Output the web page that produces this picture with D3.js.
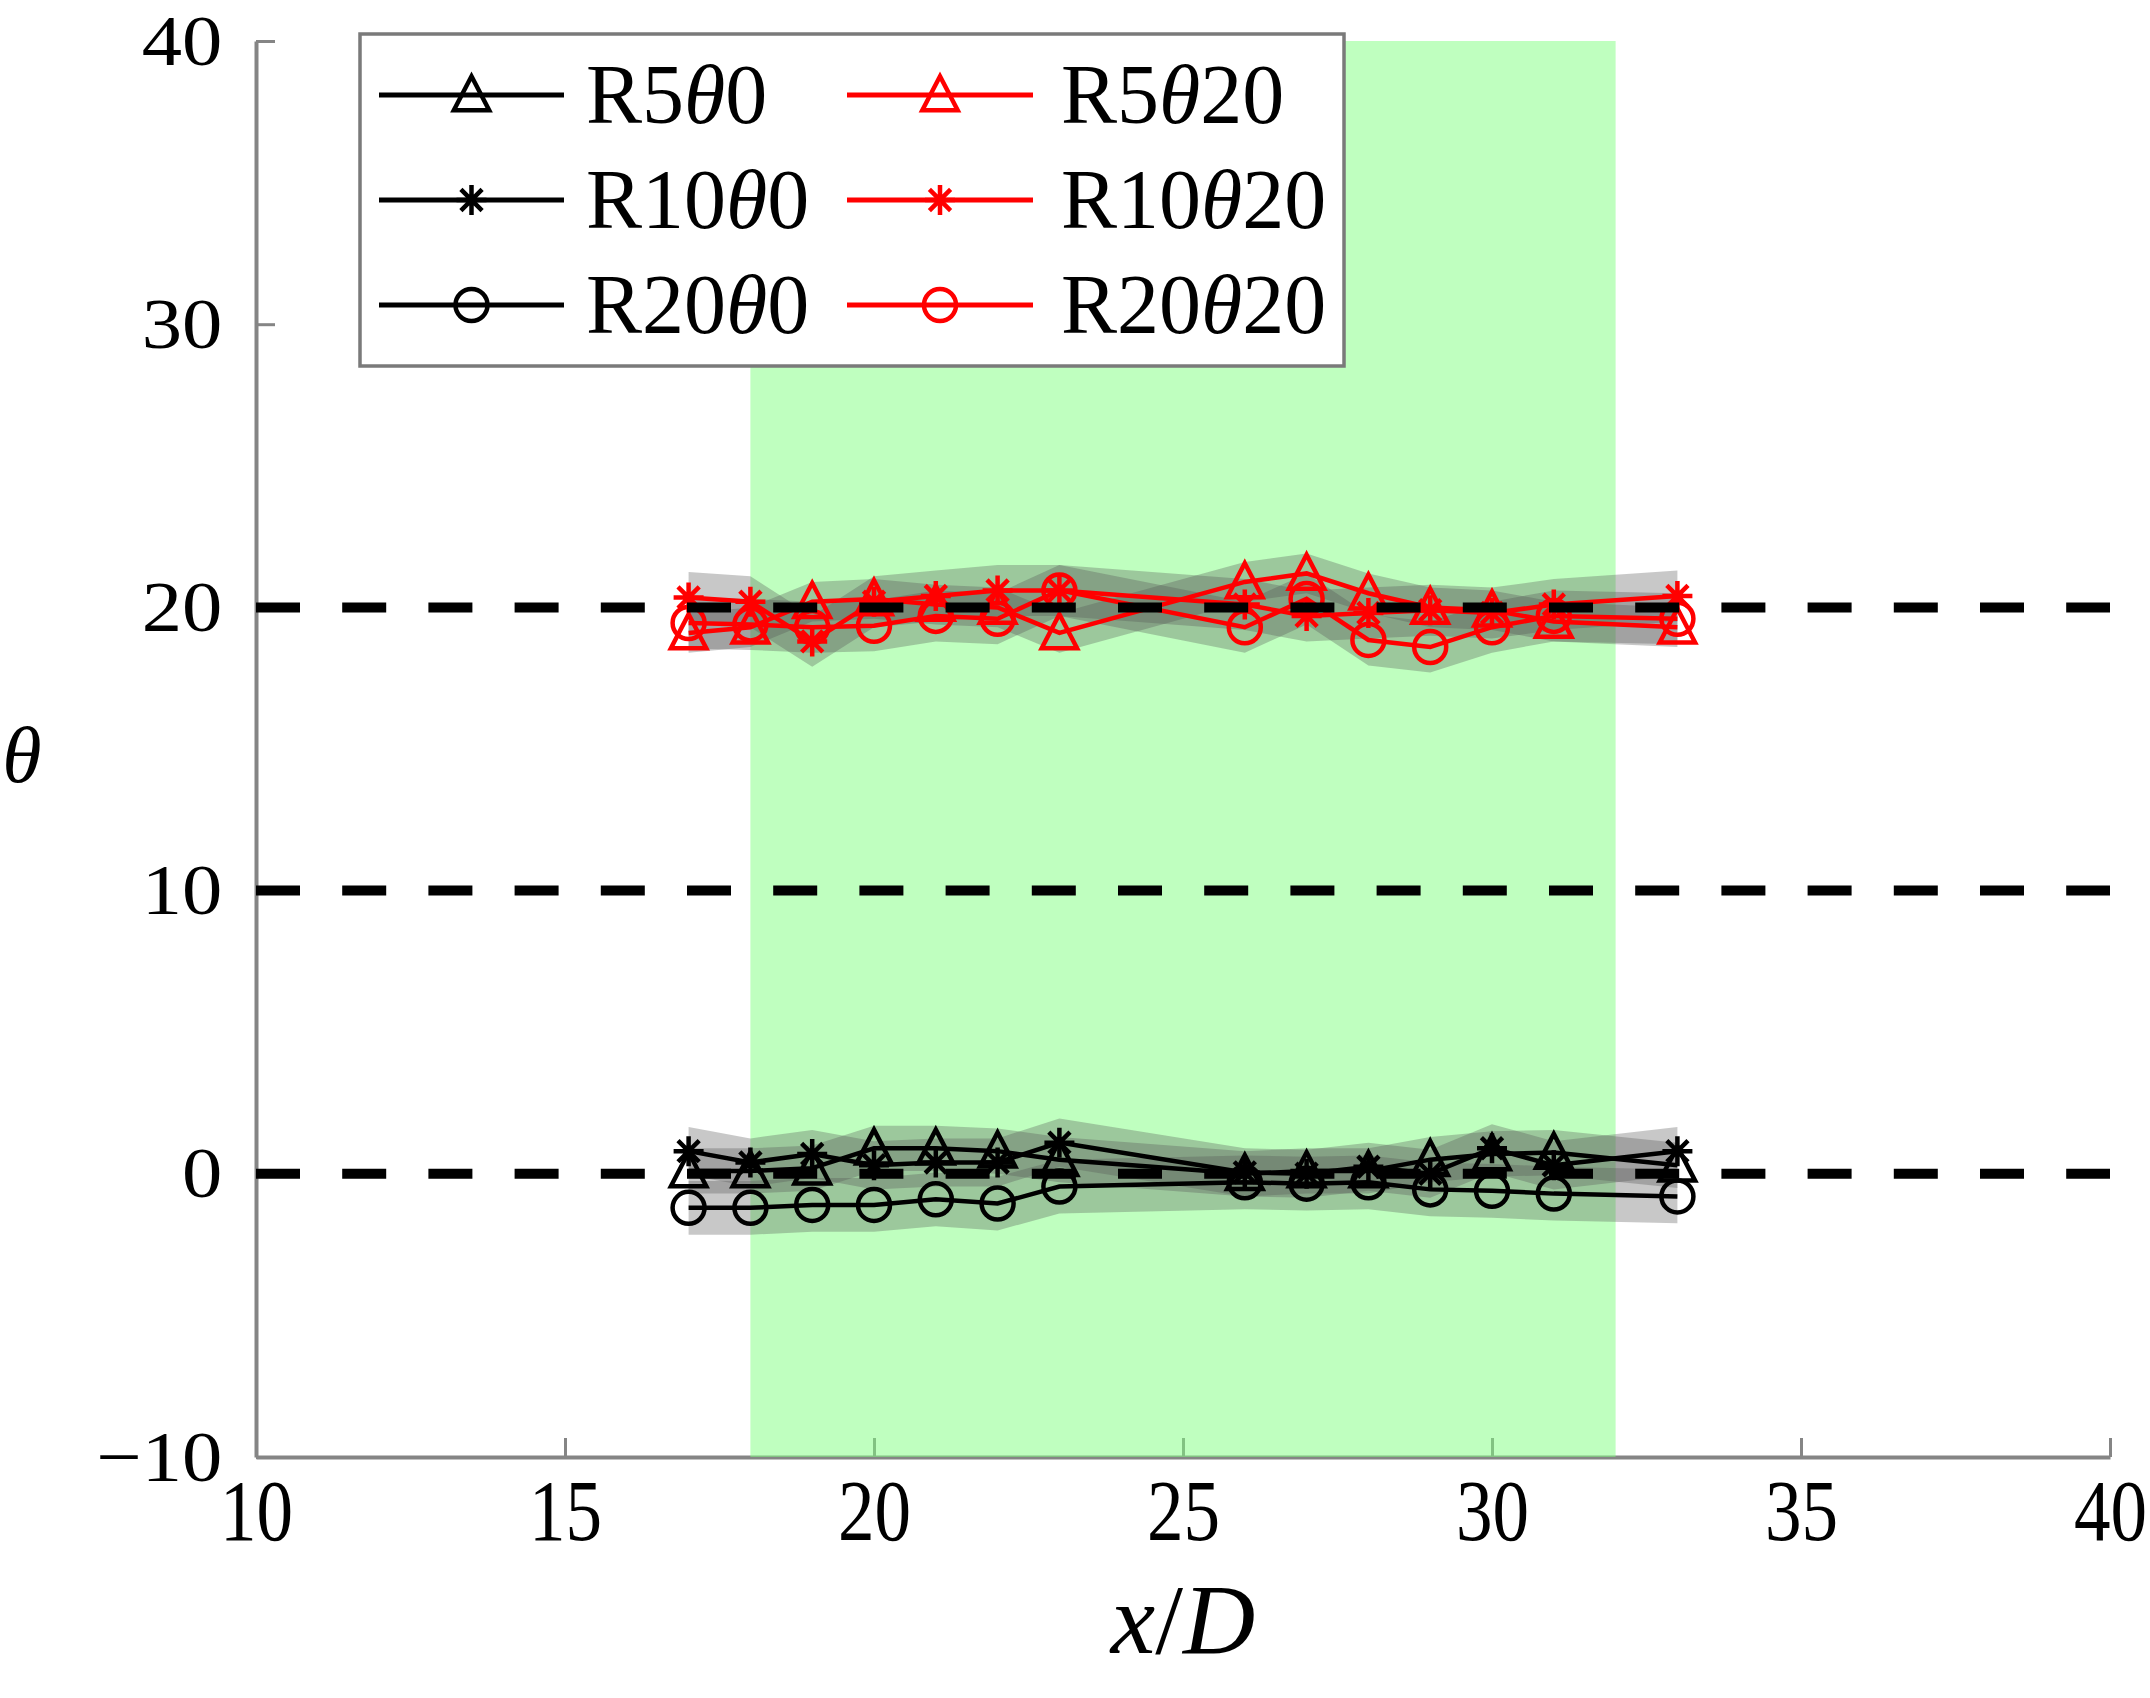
<!DOCTYPE html>
<html>
<head>
<meta charset="utf-8">
<script src="https://d3js.org/d3.v7.min.js"></script>
<style>
  body { margin: 0; background: #fff; }
  svg { display: block; }
  text { font-family: 'Liberation Serif', 'Times New Roman', serif; fill: #000; }
</style>
</head>
<body>
<svg id="chart" width="2150" height="1698"></svg>
<script>
// measurement stations (x/D) shared by every series
const stations = [17, 18, 19, 20, 21, 22, 23, 26, 27, 28, 29, 30, 31, 33]

// theta = 0 cases
const r5Theta0 = [0.1, 0.1, 0.2, 0.9, 0.9, 0.8, 0.5, 0.0, 0.1, 0.1, 0.5, 0.7, 0.75, 0.3]
const r10Theta0 = [0.8, 0.4, 0.7, 0.3, 0.4, 0.4, 1.1, 0.05, 0.0, 0.25, 0.0, 0.9, 0.3, 0.8]
const r20Theta0 = [-1.2, -1.2, -1.1, -1.1, -0.9, -1.05, -0.45, -0.3, -0.35, -0.3, -0.55, -0.6, -0.7, -0.8]

// theta = 20 cases
const r5Theta20 = [19.1, 19.3, 20.2, 20.3, 20.1, 20.0, 19.1, 20.9, 21.2, 20.5, 20.0, 19.9, 19.5, 19.3]
const r10Theta20 = [20.35, 20.2, 18.8, 20.2, 20.4, 20.6, 20.6, 20.1, 19.7, 19.8, 19.9, 19.8, 20.1, 20.4]
const r20Theta20 = [19.45, 19.4, 19.3, 19.35, 19.7, 19.6, 20.6, 19.3, 20.3, 18.85, 18.6, 19.3, 19.7, 19.6]

// half width of the shaded band around each series
const seriesSpread = [0.8, 0.85, 0.95, 0.7, 0.9, 0.9]
const seriesNames = ['R5θ0', 'R10θ0', 'R20θ0', 'R5θ20', 'R10θ20', 'R20θ20']

const xTicks = [10, 15, 20, 25, 30, 35, 40]
const yTicks = [-10, 0, 10, 20, 30, 40]
const referenceLevels = [0, 10, 20]
const shadedRange = [18, 32]

const W = 2150
const H = 1698
const margin = { top: 41, right: 40, bottom: 241, left: 256 }

const x = d3.scaleLinear().domain([10, 40]).range([margin.left, W - margin.right])
const y = d3.scaleLinear().domain([-10, 40]).range([H - margin.bottom, margin.top])

const series = [
  { name: seriesNames[0], values: r5Theta0, color: '#000', marker: 'triangle', spread: seriesSpread[0] },
  { name: seriesNames[1], values: r10Theta0, color: '#000', marker: 'asterisk', spread: seriesSpread[1] },
  { name: seriesNames[2], values: r20Theta0, color: '#000', marker: 'circle', spread: seriesSpread[2] },
  { name: seriesNames[3], values: r5Theta20, color: '#f00', marker: 'triangle', spread: seriesSpread[3] },
  { name: seriesNames[4], values: r10Theta20, color: '#f00', marker: 'asterisk', spread: seriesSpread[4] },
  { name: seriesNames[5], values: r20Theta20, color: '#f00', marker: 'circle', spread: seriesSpread[5] },
]

// marker shapes, all drawn as open outlines
const asteriskSymbol = {
  draw (ctx, size) {
    const r = Math.sqrt(size) / 2
    for (let i = 0; i < 4; i++) {
      const a = i * Math.PI / 4
      ctx.moveTo(-r * Math.cos(a), -r * Math.sin(a))
      ctx.lineTo(r * Math.cos(a), r * Math.sin(a))
    }
  }
}
const triangleSymbol = {
  draw (ctx, size) {
    const s = Math.sqrt(size)
    const hw = s * 0.52
    const h = s
    ctx.moveTo(0, -h * 0.55)
    ctx.lineTo(hw, h * 0.45)
    ctx.lineTo(-hw, h * 0.45)
    ctx.closePath()
  }
}
const markerPath = {
  triangle: d3.symbol().type(triangleSymbol).size(34 * 34)(),
  asterisk: d3.symbol().type(asteriskSymbol).size(30 * 30)(),
  circle: d3.symbol().type(d3.symbolCircle).size(Math.PI * 16 * 16)(),
}

const svg = d3.select('#chart')

/**
 * Axes go first: the green region is translucent and tints them.
 */
const xAxis = d3.axisBottom(x).tickValues(xTicks).tickSizeInner(-19).tickSizeOuter(0).tickPadding(22)
  .tickFormat(d3.format('d'))
const yAxis = d3.axisLeft(y).tickValues(yTicks).tickSizeInner(-19).tickSizeOuter(0).tickPadding(30)
  .tickFormat(d3.format('d'))

const gx = svg.append('g')
  .attr('transform', `translate(0, ${y(-10)})`)
  .call(xAxis)
const gy = svg.append('g')
  .attr('transform', `translate(${x(10)}, 0)`)
  .call(yAxis)

for (const g of [gx, gy]) {
  g.attr('font-family', null).attr('font-size', null)
  g.select('.domain').attr('stroke', '#858585').attr('stroke-width', 4)
  g.selectAll('.tick line').attr('stroke', '#858585').attr('stroke-width', 3)
}
gx.selectAll('.tick text')
  .attr('font-size', 86)
  .attr('transform', 'scale(0.85,1)')
gy.selectAll('.tick text')
  .attr('font-size', 72)
  .attr('transform', 'scale(1.12,1)')

svg.append('rect')
  .attr('x', x(shadedRange[0]))
  .attr('y', y(40))
  .attr('width', x(shadedRange[1]) - x(shadedRange[0]))
  .attr('height', y(-10) - y(40))
  .attr('fill', 'rgb(128,255,128)')
  .attr('fill-opacity', 0.5)

// spread bands
const band = d3.area()
  .x(d => x(d.x))
  .y0(d => y(d.v - d.s))
  .y1(d => y(d.v + d.s))

svg.append('g')
  .selectAll('path')
  .data(series)
  .join('path')
  .attr('d', s => band(stations.map((xv, i) => ({ x: xv, v: s.values[i], s: s.spread }))))
  .attr('fill', '#555')
  .attr('fill-opacity', 0.32)

// series lines and markers
const line = d3.line().x(d => x(d[0])).y(d => y(d[1]))

const gSeries = svg.append('g')
  .selectAll('g')
  .data(series)
  .join('g')

gSeries.append('path')
  .attr('d', s => line(stations.map((xv, i) => [xv, s.values[i]])))
  .attr('fill', 'none')
  .attr('stroke', s => s.color)
  .attr('stroke-width', 4.5)

gSeries.selectAll('path.marker')
  .data(s => stations.map((xv, i) => ({ x: xv, v: s.values[i], s })))
  .join('path')
  .attr('class', 'marker')
  .attr('transform', d => `translate(${x(d.x)}, ${y(d.v)})`)
  .attr('d', d => markerPath[d.s.marker])
  .attr('fill', 'none')
  .attr('stroke', d => d.s.color)
  .attr('stroke-width', 4.5)

// dashed reference levels
svg.append('g')
  .selectAll('line')
  .data(referenceLevels)
  .join('line')
  .attr('x1', x(10))
  .attr('x2', x(40))
  .attr('y1', d => y(d))
  .attr('y2', d => y(d))
  .attr('stroke', '#000')
  .attr('stroke-width', 10)
  .attr('stroke-dasharray', '44 42.2')

// axis titles
svg.append('text')
  .attr('x', 22)
  .attr('y', 782)
  .attr('text-anchor', 'middle')
  .attr('font-size', 80)
  .attr('font-style', 'italic')
  .text('θ')

const xTitle = svg.append('text')
  .attr('x', (x(10) + x(40)) / 2)
  .attr('y', 1653)
  .attr('text-anchor', 'middle')
  .attr('font-size', 100)
  .attr('font-style', 'italic')
xTitle.append('tspan').text('x')
xTitle.append('tspan').attr('font-style', 'normal').text('/')
xTitle.append('tspan').text('D')

// legend
const legend = svg.append('g')
legend.append('rect')
  .attr('x', 360)
  .attr('y', 34)
  .attr('width', 984)
  .attr('height', 332)
  .attr('fill', '#fff')
  .attr('stroke', '#7a7a7a')
  .attr('stroke-width', 3.5)

const legendRows = [95, 200, 305]
const legendCols = [{ x0: 379, x1: 564, text: 586 }, { x0: 847, x1: 1033, text: 1061 }]

const item = legend.selectAll('g.item')
  .data(series)
  .join('g')
  .attr('class', 'item')
  .attr('transform', (s, i) => `translate(0, ${legendRows[i % 3]})`)

item.append('line')
  .attr('x1', (s, i) => legendCols[Math.floor(i / 3)].x0)
  .attr('x2', (s, i) => legendCols[Math.floor(i / 3)].x1)
  .attr('stroke', s => s.color)
  .attr('stroke-width', 5)

item.append('path')
  .attr('transform', (s, i) => `translate(${(legendCols[Math.floor(i / 3)].x0 + legendCols[Math.floor(i / 3)].x1) / 2}, 0)`)
  .attr('d', s => markerPath[s.marker])
  .attr('fill', 'none')
  .attr('stroke', s => s.color)
  .attr('stroke-width', 4.5)

const label = item.append('text')
  .attr('x', (s, i) => legendCols[Math.floor(i / 3)].text)
  .attr('y', 28)
  .attr('font-size', 84)
label.append('tspan').text(s => s.name.split('θ')[0])
label.append('tspan').attr('font-style', 'italic').text('θ')
label.append('tspan').text(s => s.name.split('θ')[1])
</script>
</body>
</html>
